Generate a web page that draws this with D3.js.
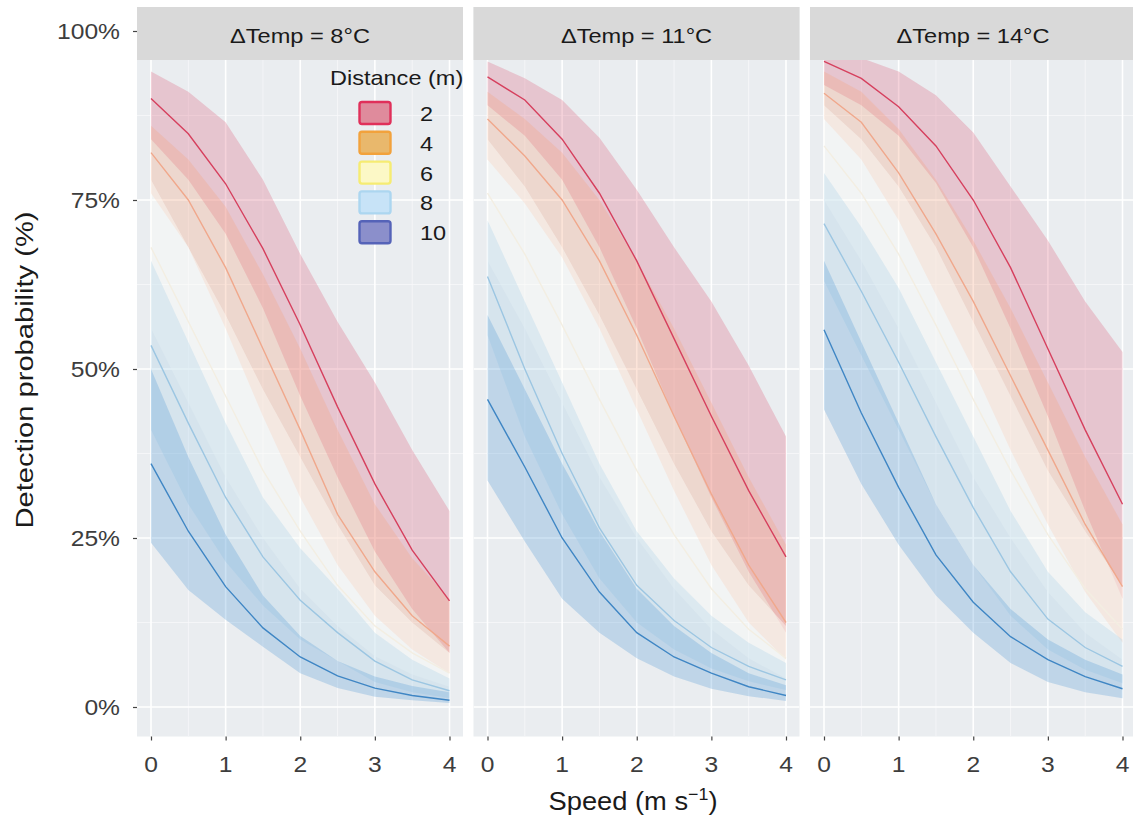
<!DOCTYPE html>
<html>
<head>
<meta charset="utf-8">
<script src="https://cdn.jsdelivr.net/npm/d3@7"></script>
<style>
  body { margin: 0; background: #ffffff; }
  svg { display: block; }
  text { font-family: "Liberation Sans", Arial, Helvetica, sans-serif; }
</style>
</head>
<body>
<svg id="chart" width="1133" height="822"></svg>
<script>
// ---- data -------------------------------------------------------------
const speeds = [0, 0.5, 1, 1.5, 2, 2.5, 3, 3.5, 4];
const distances = ["2", "4", "6", "8", "10"];
const tempLabels = ["ΔTemp = 8°C", "ΔTemp = 11°C", "ΔTemp = 14°C"];
const yTicks = [0, 0.25, 0.5, 0.75, 1];
const yTickLabels = ["0%", "25%", "50%", "75%", "100%"];
const xTicks = [0, 1, 2, 3, 4];

// rows: distance 2, 4, 6, 8, 10 ; columns: speeds
const fit8 = [
  [0.900, 0.848, 0.774, 0.678, 0.565, 0.444, 0.330, 0.232, 0.157],
  [0.820, 0.750, 0.650, 0.530, 0.410, 0.285, 0.200, 0.135, 0.090],
  [0.680, 0.570, 0.460, 0.350, 0.260, 0.180, 0.120, 0.080, 0.050],
  [0.535, 0.420, 0.310, 0.222, 0.158, 0.110, 0.068, 0.040, 0.024],
  [0.360, 0.260, 0.178, 0.117, 0.074, 0.046, 0.028, 0.017, 0.010]
];
const lower8 = [
  [0.840, 0.780, 0.700, 0.590, 0.460, 0.340, 0.230, 0.145, 0.080],
  [0.760, 0.680, 0.560, 0.430, 0.310, 0.210, 0.135, 0.085, 0.050],
  [0.560, 0.450, 0.340, 0.250, 0.175, 0.120, 0.075, 0.048, 0.030],
  [0.410, 0.300, 0.215, 0.150, 0.100, 0.068, 0.037, 0.022, 0.013],
  [0.243, 0.173, 0.129, 0.089, 0.050, 0.028, 0.015, 0.010, 0.006]
];
const upper8 = [
  [0.940, 0.910, 0.865, 0.780, 0.670, 0.570, 0.480, 0.380, 0.290],
  [0.860, 0.810, 0.740, 0.640, 0.530, 0.410, 0.300, 0.220, 0.160],
  [0.780, 0.680, 0.580, 0.470, 0.370, 0.270, 0.180, 0.125, 0.080],
  [0.660, 0.540, 0.420, 0.310, 0.235, 0.175, 0.110, 0.070, 0.042],
  [0.500, 0.370, 0.255, 0.165, 0.105, 0.068, 0.045, 0.031, 0.022]
];

const fit11 = [
  [0.932, 0.898, 0.840, 0.760, 0.660, 0.545, 0.430, 0.320, 0.222],
  [0.870, 0.815, 0.750, 0.660, 0.550, 0.430, 0.315, 0.210, 0.125],
  [0.760, 0.670, 0.565, 0.455, 0.350, 0.255, 0.175, 0.115, 0.072],
  [0.637, 0.500, 0.375, 0.265, 0.180, 0.128, 0.088, 0.060, 0.040],
  [0.455, 0.355, 0.250, 0.170, 0.110, 0.074, 0.050, 0.030, 0.017]
];
const lower11 = [
  [0.890, 0.845, 0.780, 0.680, 0.560, 0.430, 0.310, 0.200, 0.110],
  [0.810, 0.745, 0.665, 0.560, 0.440, 0.320, 0.210, 0.125, 0.070],
  [0.660, 0.560, 0.450, 0.340, 0.250, 0.175, 0.115, 0.072, 0.042],
  [0.550, 0.400, 0.285, 0.190, 0.125, 0.085, 0.057, 0.038, 0.025],
  [0.335, 0.245, 0.160, 0.110, 0.072, 0.045, 0.027, 0.016, 0.009]
];
const upper11 = [
  [0.955, 0.930, 0.898, 0.842, 0.765, 0.680, 0.600, 0.505, 0.400],
  [0.910, 0.870, 0.820, 0.750, 0.660, 0.560, 0.450, 0.340, 0.240],
  [0.840, 0.770, 0.680, 0.580, 0.470, 0.360, 0.260, 0.180, 0.120],
  [0.720, 0.600, 0.480, 0.360, 0.260, 0.190, 0.135, 0.095, 0.065],
  [0.580, 0.470, 0.360, 0.260, 0.175, 0.120, 0.080, 0.050, 0.032]
];

const fit14 = [
  [0.955, 0.930, 0.888, 0.830, 0.750, 0.650, 0.530, 0.410, 0.300],
  [0.908, 0.865, 0.790, 0.700, 0.600, 0.490, 0.380, 0.270, 0.178],
  [0.830, 0.760, 0.670, 0.565, 0.455, 0.350, 0.255, 0.175, 0.115],
  [0.715, 0.615, 0.510, 0.400, 0.295, 0.200, 0.130, 0.088, 0.060],
  [0.558, 0.435, 0.325, 0.225, 0.155, 0.104, 0.070, 0.045, 0.027]
];
const lower14 = [
  [0.920, 0.890, 0.845, 0.775, 0.680, 0.560, 0.430, 0.290, 0.160],
  [0.870, 0.810, 0.720, 0.610, 0.500, 0.380, 0.270, 0.170, 0.095],
  [0.750, 0.660, 0.560, 0.450, 0.340, 0.250, 0.170, 0.110, 0.070],
  [0.630, 0.520, 0.410, 0.300, 0.210, 0.135, 0.085, 0.055, 0.035],
  [0.440, 0.330, 0.240, 0.165, 0.110, 0.065, 0.037, 0.022, 0.013]
];
const upper14 = [
  [0.975, 0.960, 0.940, 0.905, 0.850, 0.770, 0.690, 0.600, 0.525],
  [0.940, 0.910, 0.855, 0.780, 0.690, 0.590, 0.480, 0.370, 0.270],
  [0.890, 0.840, 0.770, 0.680, 0.570, 0.460, 0.350, 0.260, 0.180],
  [0.790, 0.710, 0.620, 0.510, 0.400, 0.290, 0.200, 0.140, 0.100],
  [0.660, 0.540, 0.420, 0.300, 0.210, 0.145, 0.100, 0.070, 0.048]
];

// ---- styling ----------------------------------------------------------
const lineColors   = ["#d6405e", "#f0a88c", "#f3eee2", "#9cc6e2", "#3f86c4"];
const ribbonColors = ["#dd6a85", "#f4a582", "#fdfdf8", "#a8cfe8", "#5d9fd6"];
const ribbonAlpha  = [0.30, 0.30, 0.45, 0.30, 0.30];
const keyFills   = ["#df8b9c", "#e9b86c", "#fcf8c6", "#c7e3f7", "#8b8fcb"];
const keyStrokes = ["#e0305a", "#f2a23c", "#f6ec72", "#acd6f0", "#5563b8"];

const panelBg = "#eaedf0";
const stripBg = "#d9d9d9";

// ---- layout -----------------------------------------------------------
const svg = d3.select("#chart");
const panelTop = 7, panelBottom = 736.5, stripBottom = 60;
const panelW = 326, panelStep = 336.5, firstLeft = 137;

const y = d3.scaleLinear().domain([0, 1]).range([707, 31]);

const panels = [
  { label: tempLabels[0], fit: fit8,  lo: lower8,  hi: upper8 },
  { label: tempLabels[1], fit: fit11, lo: lower11, hi: upper11 },
  { label: tempLabels[2], fit: fit14, lo: lower14, hi: upper14 }
];

function stretched(sel, x, yy, sx, sy) {
  return sel.attr("transform", `translate(${x},${yy}) scale(${sx},${sy || 1})`);
}

panels.forEach((p, i) => {
  const left = firstLeft + i * panelStep;
  const x = d3.scaleLinear().domain([0, 4]).range([left + 14, left + 312.5]);
  const g = svg.append("g");

  const clipId = "clip" + i;
  svg.append("clipPath").attr("id", clipId)
    .append("rect").attr("x", left).attr("y", panelTop)
    .attr("width", panelW).attr("height", panelBottom - panelTop);

  g.append("rect").attr("x", left).attr("y", panelTop)
    .attr("width", panelW).attr("height", panelBottom - panelTop)
    .attr("fill", panelBg);

  const body = g.append("g").attr("clip-path", `url(#${clipId})`);

  // grid
  const xMinor = [0.5, 1.5, 2.5, 3.5];
  const yMinor = [0.125, 0.375, 0.625, 0.875];
  body.selectAll(".xminor").data(xMinor).join("line")
    .attr("x1", d => x(d)).attr("x2", d => x(d))
    .attr("y1", panelTop).attr("y2", panelBottom)
    .attr("stroke", "#f7f8fa").attr("stroke-width", 0.8);
  body.selectAll(".yminor").data(yMinor).join("line")
    .attr("x1", left).attr("x2", left + panelW)
    .attr("y1", d => y(d)).attr("y2", d => y(d))
    .attr("stroke", "#f7f8fa").attr("stroke-width", 0.8);
  body.selectAll(".xmajor").data(xTicks).join("line")
    .attr("x1", d => x(d)).attr("x2", d => x(d))
    .attr("y1", panelTop).attr("y2", panelBottom)
    .attr("stroke", "#ffffff").attr("stroke-width", 1.6);
  body.selectAll(".ymajor").data(yTicks).join("line")
    .attr("x1", left).attr("x2", left + panelW)
    .attr("y1", d => y(d)).attr("y2", d => y(d))
    .attr("stroke", "#ffffff").attr("stroke-width", 1.6);

  // confidence ribbons
  const area = d3.area()
    .x((d, k) => x(speeds[k]))
    .y0(d => y(d[0])).y1(d => y(d[1]));
  distances.forEach((dist, j) => {
    const band = speeds.map((s, k) => [p.lo[j][k], p.hi[j][k]]);
    body.append("path").attr("d", area(band))
      .attr("fill", ribbonColors[j]).attr("fill-opacity", ribbonAlpha[j]);
  });

  // fitted lines
  const line = d3.line().x((d, k) => x(speeds[k])).y(d => y(d));
  distances.forEach((dist, j) => {
    body.append("path").attr("d", line(p.fit[j]))
      .attr("fill", "none").attr("stroke", lineColors[j])
      .attr("stroke-width", 1.4);
  });

  // strip
  g.append("rect").attr("x", left).attr("y", panelTop)
    .attr("width", panelW).attr("height", stripBottom - panelTop)
    .attr("fill", stripBg);
  stretched(g.append("text"), left + panelW / 2, 43, 1.18)
    .attr("text-anchor", "middle").attr("font-size", 20)
    .attr("fill", "#1a1a1a").text(p.label);

  // x axis
  const ax = g.append("g").attr("transform", `translate(0,${panelBottom})`)
    .call(d3.axisBottom(x).tickValues(xTicks).tickSize(4).tickPadding(0).tickFormat(""));
  ax.select(".domain").remove();
  ax.selectAll(".tick line").attr("stroke", "#444").attr("stroke-width", 1.2);
  xTicks.forEach(t => {
    stretched(g.append("text"), x(t), 772, 1.12)
      .attr("text-anchor", "middle").attr("font-size", 22)
      .attr("fill", "#3d3d3d").text(String(t));
  });
});

// y axis
const ay = svg.append("g").attr("transform", `translate(${firstLeft},0)`)
  .call(d3.axisLeft(y).tickValues(yTicks).tickSize(4).tickFormat(""));
ay.select(".domain").remove();
ay.selectAll(".tick line").attr("stroke", "#444").attr("stroke-width", 1.2);
yTicks.forEach((t, k) => {
  stretched(svg.append("text"), 120, y(t) + 8, 1.12)
    .attr("text-anchor", "end").attr("font-size", 22)
    .attr("fill", "#3d3d3d").text(yTickLabels[k]);
});

// axis titles
const xt = stretched(svg.append("text"), 633, 810, 1.05)
  .attr("text-anchor", "middle").attr("font-size", 26).attr("fill", "#1a1a1a");
xt.append("tspan").text("Speed (m s");
xt.append("tspan").attr("font-size", 17).attr("dy", -10).text("−1");
xt.append("tspan").attr("dy", 10).text(")");

svg.append("text")
  .attr("transform", "translate(33,370) rotate(-90) scale(1.12,0.92)")
  .attr("text-anchor", "middle").attr("font-size", 26).attr("fill", "#1a1a1a")
  .text("Detection probability (%)");

// legend
const legend = svg.append("g");
stretched(legend.append("text"), 330, 85, 1.12)
  .attr("font-size", 21).attr("fill", "#1a1a1a").text("Distance (m)");
distances.forEach((dist, j) => {
  const top = 101 + j * 29.8;
  legend.append("rect")
    .attr("x", 359.5).attr("y", top + 1).attr("width", 31).attr("height", 22)
    .attr("rx", 2.5)
    .attr("fill", keyFills[j]).attr("stroke", keyStrokes[j]).attr("stroke-width", 2.4);
  stretched(legend.append("text"), 420, top + 20, 1.12)
    .attr("font-size", 21).attr("fill", "#1a1a1a").text(dist);
});
</script>
</body>
</html>
